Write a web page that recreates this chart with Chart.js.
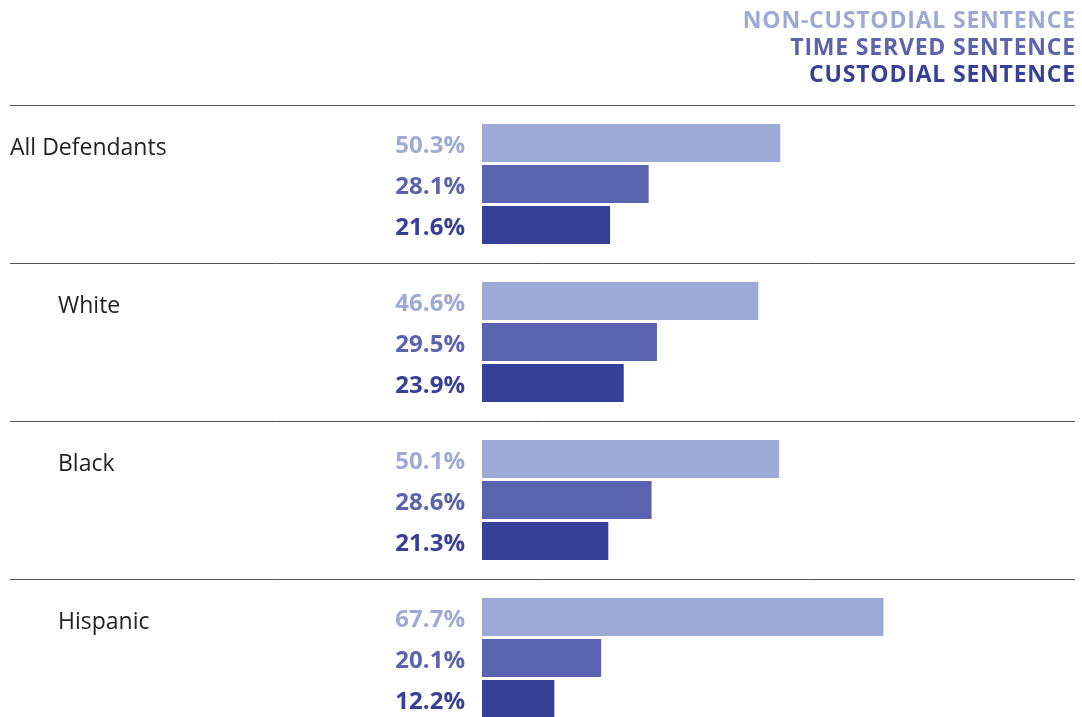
<!DOCTYPE html>
<html>
<head>
<meta charset="utf-8">
<script src="https://cdn.jsdelivr.net/npm/chart.js@4"></script>
<style>
  html, body { margin: 0; padding: 0; background: #fff; overflow: hidden; }
  #wrap { width: 1082px; height: 717px; overflow: hidden; }
</style>
</head>
<body>
<div id="wrap"><canvas id="chart" width="1082" height="740"></canvas></div>
<script>
const groups = ['All Defendants', 'White', 'Black', 'Hispanic'];
const seriesNames = ['NON-CUSTODIAL SENTENCE', 'TIME SERVED SENTENCE', 'CUSTODIAL SENTENCE'];
const nonCustodial = [50.3, 46.6, 50.1, 67.7];
const timeServed = [28.1, 29.5, 28.6, 20.1];
const custodial = [21.6, 23.9, 21.3, 12.2];
const colors = ['#9eaad6', '#5a63ad', '#364099'];

const FONT = '"Open Sans", Lato, sans-serif';

// separators, group names, value labels and the legend text
const overlay = {
    id: 'overlay',
    afterDraw(chart) {
        const ctx = chart.ctx;
        const area = chart.chartArea;
        const y = chart.scales.y;
        const step = y.getPixelForValue(1) - y.getPixelForValue(0);

        ctx.save();
        // lines between groups
        ctx.strokeStyle = '#555';
        ctx.lineWidth = 1;
        groups.forEach((g, i) => {
            const py = Math.round(y.getPixelForValue(i) - step / 2) + 0.5;
            ctx.beginPath();
            ctx.moveTo(10, py);
            ctx.lineTo(area.right, py);
            ctx.stroke();
        });

        // group names, next to the first bar of each group
        const first = chart.getDatasetMeta(0).data;
        ctx.fillStyle = '#222';
        ctx.font = '23px ' + FONT;
        ctx.textAlign = 'left';
        ctx.textBaseline = 'middle';
        groups.forEach((g, i) => {
            ctx.fillText(g, i === 0 ? 10 : 58, first[i].y + 5);
        });

        // value labels
        ctx.font = 'bold 24px ' + FONT;
        ctx.textAlign = 'right';
        chart.data.datasets.forEach((ds, d) => {
            const meta = chart.getDatasetMeta(d);
            ctx.fillStyle = ds.backgroundColor;
            meta.data.forEach((bar, i) => {
                ctx.fillText(ds.data[i].toFixed(1) + '%', area.left - 17, bar.y + 3);
            });
        });

        // legend, top right
        ctx.font = 'bold 23px ' + FONT;
        ctx.letterSpacing = '0.8px';
        chart.data.datasets.forEach((ds, d) => {
            ctx.fillStyle = ds.backgroundColor;
            ctx.fillText(ds.label, area.right + 1, 21 + d * 27);
        });
        ctx.restore();
    }
};

new Chart(document.getElementById('chart').getContext('2d'), {
    type: 'bar',
    data: {
        labels: groups,
        datasets: [
            { label: seriesNames[0], data: nonCustodial, backgroundColor: colors[0] },
            { label: seriesNames[1], data: timeServed, backgroundColor: colors[1] },
            { label: seriesNames[2], data: custodial, backgroundColor: colors[2] }
        ]
    },
    options: {
        indexAxis: 'y',
        responsive: false,
        animation: false,
        categoryPercentage: 0.778,
        barPercentage: 0.927,
        layout: { padding: { left: 482, right: 7, top: 105, bottom: 3 } },
        scales: {
            x: { display: false, min: 0, max: 100 },
            y: { display: false }
        },
        plugins: {
            legend: { display: false },
            tooltip: { enabled: false }
        }
    },
    plugins: [overlay]
});
</script>
</body>
</html>
